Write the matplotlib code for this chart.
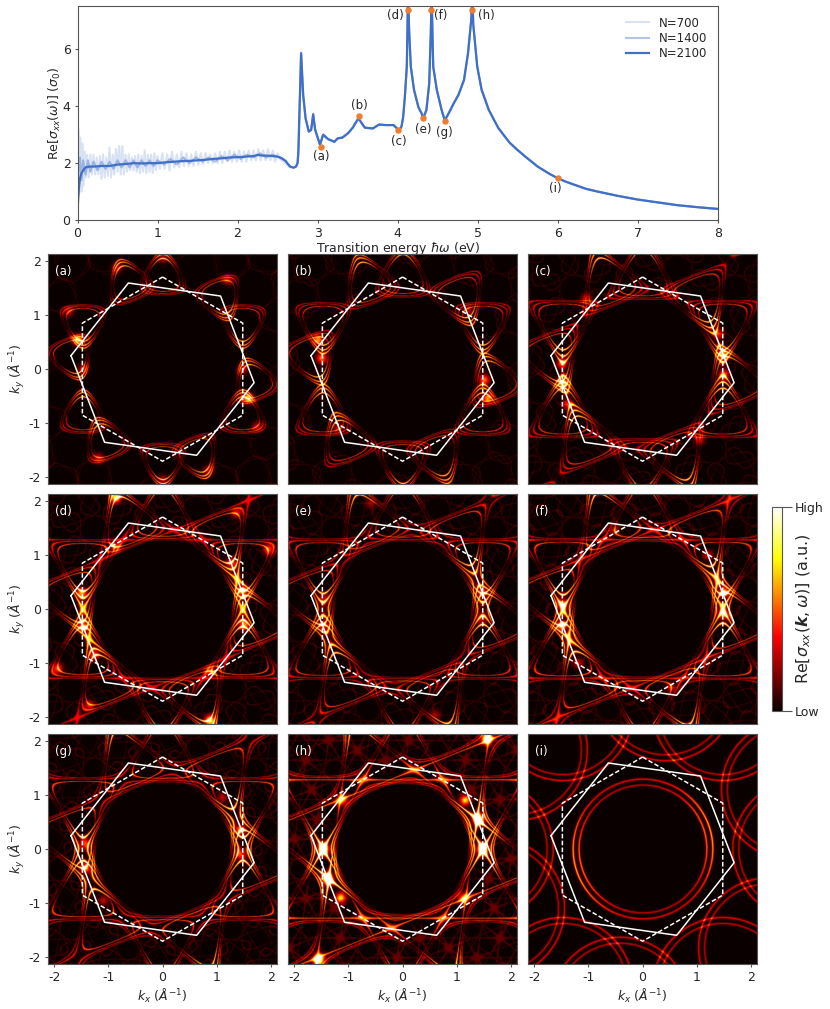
import numpy as np
import matplotlib
matplotlib.use('Agg')
import matplotlib.pyplot as plt

# The top curves are hand read values. The 2D maps cannot be read cell by cell:
# they are an approximation built from a two layer band model, using the energies,
# band offsets, ring radii and hot spots.

plt.rcParams['axes.unicode_minus'] = False
plt.rcParams['font.size'] = 9
plt.rcParams['text.color'] = '#262626'
plt.rcParams['axes.labelcolor'] = '#262626'
plt.rcParams['xtick.labelcolor'] = '#262626'
plt.rcParams['ytick.labelcolor'] = '#262626'
plt.rcParams['axes.edgecolor'] = '#555555'

BLUE = '#3f6fc6'
ORANGE = '#ed7d31'

# N=2100 curve
w_2100 = [0, .01, .02, .03, .05, .08, .1, .15, .2, .3, .4, .5, .6, .7, .8, .9, 1.0, 1.1, 1.2, 1.3, 1.4, 1.5, 1.6, 1.7,
          1.8, 1.9, 2.0, 2.1, 2.2, 2.25, 2.3, 2.4, 2.5, 2.55, 2.6, 2.63, 2.66, 2.7, 2.73, 2.75, 2.76, 2.78, 2.794,
          2.82, 2.85, 2.89, 2.92, 2.945, 2.97, 3.03, 3.07, 3.13, 3.21, 3.25, 3.31, 3.38, 3.44, 3.51, 3.59, 3.69, 3.77,
          3.85, 3.95, 4.0, 4.02, 4.05, 4.07, 4.09, 4.115, 4.13, 4.145, 4.165, 4.205, 4.26, 4.3, 4.32, 4.36, 4.395,
          4.415, 4.425, 4.445, 4.49, 4.55, 4.59, 4.66, 4.7, 4.76, 4.83, 4.88, 4.92, 4.935, 4.945, 4.995, 5.05, 5.14,
          5.26, 5.4, 5.5, 5.6, 5.75, 5.9, 6.0, 6.1, 6.25, 6.35, 6.5, 6.75, 7.0, 7.25, 7.5, 7.75, 8.0]
s_2100 = [.3, .8, 1.2, 1.45, 1.65, 1.78, 1.85, 1.88, 1.88, 1.9, 1.9, 1.95, 1.97, 2.0, 1.99, 2.0, 2.0, 2.03, 2.05, 2.07,
          2.08, 2.1, 2.12, 2.15, 2.17, 2.2, 2.21, 2.23, 2.25, 2.29, 2.27, 2.26, 2.23, 2.18, 2.08, 1.97, 1.88, 1.84,
          1.88, 2.0, 2.4, 4.4, 5.87, 4.4, 3.58, 3.11, 3.17, 3.72, 3.17, 2.65, 3.0, 2.85, 2.75, 2.87, 2.9, 3.05, 3.25,
          3.58, 3.25, 3.22, 3.36, 3.34, 3.34, 3.2, 3.15, 3.3, 3.64, 4.3, 5.4, 7.9, 6.6, 5.4, 4.58, 3.97, 3.75, 3.58,
          3.87, 4.81, 6.58, 7.9, 5.4, 4.58, 3.87, 3.5, 3.87, 4.1, 4.4, 4.93, 5.87, 7.04, 7.9, 6.9, 5.4, 4.58, 3.87,
          3.23, 2.72, 2.46, 2.22, 1.88, 1.62, 1.47, 1.35, 1.2, 1.1, 1.0, .85, .72, .62, .52, .45, .39]

# N=700 curve below 2.7 eV (jagged), above that it sits on N=2100
w_700 = [0, .01, .02, .035, .05, .06, .075, .09, .105, .12, .14, .16, .18, .2, .22, .24, .26, .28, .3, .32, .34, .36,
         .38, .4, .42, .44, .46, .48, .5, .52, .54, .56, .58, .6, .62, .64, .66, .68, .7, .72, .74, .76, .78, .8,
         .82, .84, .86, .88, .9, .92, .94, .96, .98, 1.0, 1.03, 1.06, 1.09, 1.12, 1.15, 1.18, 1.21, 1.24, 1.27, 1.3,
         1.33, 1.36, 1.39, 1.42, 1.45, 1.48, 1.51, 1.54, 1.57, 1.6, 1.63, 1.66, 1.69, 1.72, 1.75, 1.78, 1.81, 1.84,
         1.87, 1.9, 1.93, 1.96, 1.99, 2.02, 2.05, 2.08, 2.11, 2.14, 2.17, 2.2, 2.23, 2.26, 2.29, 2.32, 2.35, 2.38,
         2.41, 2.44, 2.47, 2.5, 2.55, 2.6, 2.65]
s_700 = [.3, 3.2, .9, 2.9, 1.0, 2.7, 1.2, 2.4, 1.5, 2.3, 1.5, 2.3, 1.6, 2.3, 1.6, 2.2, 1.6, 2.25, 1.45, 2.3, 1.5, 2.2,
         1.55, 2.55, 1.5, 2.3, 1.6, 2.5, 1.7, 2.6, 1.6, 2.6, 1.6, 2.3, 1.7, 2.3, 1.75, 2.2, 1.75, 2.25, 1.7, 2.3,
         1.65, 2.25, 1.7, 2.45, 1.65, 2.3, 1.7, 2.3, 1.65, 2.35, 1.75, 2.25, 1.8, 2.35, 1.8, 2.3, 1.75, 2.4, 1.85,
         2.3, 1.85, 2.4, 1.9, 2.35, 1.9, 2.3, 1.9, 2.4, 1.95, 2.35, 1.95, 2.35, 2.0, 2.3, 2.0, 2.35, 2.0, 2.4, 2.0,
         2.4, 2.05, 2.45, 2.05, 2.4, 2.05, 2.45, 2.05, 2.4, 2.05, 2.45, 2.1, 2.45, 2.1, 2.5, 2.1, 2.45, 2.1, 2.5,
         2.1, 2.45, 2.05, 2.35, 2.1, 2.0, 1.85]

# N=1400 curve below 2.7 eV
w_1400 = [0, .01, .03, .05, .07, .1, .13, .16, .2, .25, .3, .35, .4, .45, .5, .55, .6, .65, .7, .75, .8, .85, .9, .95,
          1.0, 1.08, 1.16, 1.24, 1.32, 1.4, 1.48, 1.56, 1.64, 1.72, 1.8, 1.88, 1.96, 2.04, 2.12, 2.2, 2.28, 2.36,
          2.44, 2.52, 2.6, 2.65]
s_1400 = [.3, 1.6, 2.2, 1.4, 2.1, 1.6, 2.1, 1.7, 2.05, 1.75, 2.05, 1.8, 2.05, 1.8, 2.1, 1.85, 2.1, 1.85, 2.1, 1.85,
          2.1, 1.9, 2.1, 1.9, 2.1, 1.95, 2.15, 1.95, 2.2, 2.0, 2.2, 2.05, 2.2, 2.05, 2.25, 2.1, 2.3, 2.15, 2.3, 2.2,
          2.35, 2.2, 2.3, 2.2, 2.08, 1.88]

# marked transition energies
mark_names = ['(a)', '(b)', '(c)', '(d)', '(e)', '(f)', '(g)', '(h)', '(i)']
mark_w = [3.04, 3.52, 4.01, 4.13, 4.32, 4.42, 4.59, 4.93, 6.0]
mark_s = [2.58, 3.65, 3.17, 7.4, 3.58, 7.4, 3.49, 7.4, 1.47]
mark_dx = [0, 0, 0, -.16, 0, .12, 0, .18, -.03]
mark_dy = [-.34, .38, -.4, -.22, -.38, -.22, -.4, -.22, -.37]

# band model for the maps
hop = 2.465
offsets = [0, -.5, -.81]
band_amp = [1.0, .7, .55]
twist = 21.8
map_amp = [.5, .5, .52, .55, .5, .55, .55, .62]
map_gamma = [.06, .06, .06, .065, .06, .065, .06, .07]
replica_amp = .2

# rings of panel (i)
ring_radii = [1.18, 1.29]
ring_amp = [.3, .36]

# hot spots per panel: x, y, height (the opposite point is added too)
hot_a = [(-1.57, .54, .7), (-1.74, 1.07, .25), (1.19, 1.65, .3), (-.85, 1.87, .25), (0, 2.05, .2), (1.47, 0, .3)]
hot_b = [(-1.5, .2, .55), (-1.57, .54, .6), (1.2, 1.1, .25)]
hot_c = [(1.48, .26, .6), (1.5, -.1, .4), (1.05, -1.3, .25), (1.4, .65, .35)]
hot_d = [(1.47, .33, .6), (1.5, -.3, .6), (1.27, .85, .45), (-.87, 1.15, .45), (-.87, 2.06, .8), (1.36, 1.78, .35),
         (1.95, 1.1, .45)]
hot_e = [(1.47, .3, .4), (1.45, -.2, .25), (-.6, 1.95, .2)]
hot_f = [(1.5, .31, .65), (1.5, -.1, .45), (-.52, 1.46, .25), (1.2, 1.0, .3)]
hot_g = [(1.43, .35, .55), (1.44, -.1, .45), (1.1, .95, .25)]
hot_h = [(1.47, 0, .95), (1.4, .55, .95), (1.15, .9, .7), (1.55, 2.05, 1.0), (1.1, -.9, .4)]
map_hot = [hot_a, hot_b, hot_c, hot_d, hot_e, hot_f, hot_g, hot_h]

# Brillouin zones
dash_x = [0, 1.48, 1.48, 0, -1.48, -1.48, 0]
dash_y = [1.7, .85, -.85, -1.7, -.85, .85, 1.7]
solid_x = [-1.69, -.63, 1.07, 1.69, .63, -1.07, -1.69]
solid_y = [.25, 1.59, 1.35, -.25, -1.59, -1.35, .25]

LIM = 2.12
ticks = [-2, -1, 0, 1, 2]


def layer_bands(kx, ky, angle):
    a = np.deg2rad(angle)
    qx = np.cos(a) * kx + np.sin(a) * ky
    qy = -np.sin(a) * kx + np.cos(a) * ky
    d = 1.42
    f = 0
    dfx = 0
    for t in [0, 120, 240]:
        dx = d * np.cos(np.deg2rad(t))
        dy = d * np.sin(np.deg2rad(t))
        ph = np.exp(1j * (qx * dx + qy * dy))
        f = f + ph
        dfx = dfx + 1j * dx * ph
    mag = np.abs(f) + 1e-6
    vel = (np.imag(np.conj(f) * dfx) / mag) ** 2
    return 2 * hop * mag, vel


def peak(x, g):
    return (g ** 2 / (x ** 2 + g ** 2)) ** 2


def step(x, lo, hi):
    t = np.clip((x - lo) / (hi - lo), 0, 1)
    return t * t * (3 - 2 * t)


def make_map(i, kx, ky):
    om = mark_w[i]
    g = map_gamma[i]
    rad = np.hypot(kx, ky)
    z = np.zeros_like(kx)
    for angle in [0, twist]:
        e, vel = layer_bands(kx, ky, angle)
        w = .35 + vel / 1.5
        for off, amp in zip(offsets, band_amp):
            z += amp * w * peak(om - e - off, g)
    z *= step(rad, 1.0, 1.15)
    # weak folded copies between the two layers
    rep = np.zeros_like(kx)
    for n in range(6):
        t1 = np.deg2rad(60 * n)
        t2 = t1 + np.deg2rad(twist)
        qx = 2.95 * (np.cos(t1) - np.cos(t2))
        qy = 2.95 * (np.sin(t1) - np.sin(t2))
        for angle, s in [(0, 1), (twist, -1)]:
            e, vel = layer_bands(kx + s * qx, ky + s * qy, angle)
            rep += peak(om - e, g)
    z += replica_amp * np.minimum(rep, 1.2) * step(rad, 1.25, 1.55)
    z = map_amp[i] * z
    z = z / (1 + .7 * z)
    for hx, hy, hh in map_hot[i]:
        for sgn in [1, -1]:
            z += hh * np.exp(-((kx - sgn * hx) ** 2 + (ky - sgn * hy) ** 2) / (2 * .065 ** 2))
    return z


def make_rings(kx, ky):
    z = np.zeros_like(kx)
    centres = [(0., 0.)]
    for n in range(6):
        for extra in [0, twist]:
            t = np.deg2rad(60 * n + extra)
            centres.append((2.95 * np.cos(t), 2.95 * np.sin(t)))
    for cx, cy in centres:
        d = np.hypot(kx - cx, ky - cy)
        if cx == 0 and cy == 0:
            shade = 1.0 + 1.0 * (np.cos(np.arctan2(ky, kx) - .25)) ** 4
        else:
            shade = 1.0
        for r, amp in zip(ring_radii, ring_amp):
            z += amp * shade * peak(d - r, .02)
    return z


fig = plt.figure(figsize=(8.3, 10.09), dpi=100)
W, H = 830., 1009.

ax = fig.add_axes([77.5 / W, 1 - 220 / H, 640.2 / W, 214 / H])
full_700_w = w_700 + [v for v in w_2100 if v > 2.66]
full_700_s = s_700 + [s for v, s in zip(w_2100, s_2100) if v > 2.66]
full_1400_w = w_1400 + [v for v in w_2100 if v > 2.66]
full_1400_s = s_1400 + [s for v, s in zip(w_2100, s_2100) if v > 2.66]
ax.plot(full_700_w, full_700_s, color=BLUE, alpha=.2, lw=1.5, label='N=700')
ax.plot(full_1400_w, full_1400_s, color=BLUE, alpha=.4, lw=1.5, label='N=1400')
ax.plot(w_2100, s_2100, color=BLUE, lw=1.6, label='N=2100')
ax.plot(mark_w, mark_s, 'o', color=ORANGE, ms=3.6, zorder=5, clip_on=False)
for name, x, y, dx, dy in zip(mark_names, mark_w, mark_s, mark_dx, mark_dy):
    ax.text(x + dx, y + dy, name, ha='center', va='center', fontsize=8.5)
ax.set_xlim(0, 8)
ax.set_ylim(0, 7.53)
ax.set_yticks([0, 2, 4, 6])
ax.tick_params(length=2.5, pad=2.5, color='#555555')
ax.set_xlabel(r'Transition energy $\hbar\omega$ (eV)', labelpad=0)
ax.set_ylabel(r'Re[$\sigma_{xx}(\omega)$] ($\sigma_0$)', labelpad=0)
ax.legend(loc='upper right', frameon=False, fontsize=8.5, borderaxespad=.5, labelspacing=.2)

gx = np.linspace(-LIM, LIM, 520)
kx, ky = np.meshgrid(gx, gx)
lefts = [47.7, 287.7, 527.7]
tops = [254.3, 494.3, 734.3]
size = 229.7
for i in range(9):
    r, c = divmod(i, 3)
    a = fig.add_axes([lefts[c] / W, 1 - (tops[r] + size) / H, size / W, size / H])
    z = make_map(i, kx, ky) if i < 8 else make_rings(kx, ky)
    im = a.imshow(z, origin='lower', extent=[-LIM, LIM, -LIM, LIM], cmap='hot',
                  vmin=0, vmax=1, interpolation='bilinear')
    a.plot(dash_x, dash_y, color='white', lw=1.1, ls=(0, (3, 1.5)))
    a.plot(solid_x, solid_y, color='white', lw=1.1)
    a.set_xlim(-LIM, LIM)
    a.set_ylim(-LIM, LIM)
    a.text(.03, .955, mark_names[i], color='white', transform=a.transAxes, ha='left', va='top', fontsize=8.5)
    a.tick_params(length=2.5, pad=2.5, color='#555555')
    if c == 0:
        a.set_yticks(ticks)
        a.set_yticklabels([str(t) for t in ticks])
        a.set_ylabel(r'$k_y$ ($\AA^{-1}$)', labelpad=1)
    else:
        a.set_yticks([])
    if r == 2:
        a.set_xticks(ticks)
        a.set_xticklabels([str(t) for t in ticks])
        a.set_xlabel(r'$k_x$ ($\AA^{-1}$)', labelpad=2)
    else:
        a.set_xticks([])

cax = fig.add_axes([771.7 / W, 1 - 710.7 / H, 10.6 / W, 204 / H])
cb = fig.colorbar(im, cax=cax)
cb.set_ticks([0, 1])
cb.set_ticklabels(['Low', 'High'], fontsize=9)
cb.ax.tick_params(length=7, pad=2, color='#555555')
cb.set_label(r'Re[$\sigma_{xx}(\boldsymbol{k},\omega)$] (a.u.)', fontsize=11.5, labelpad=-21)

fig.savefig('out.png', dpi=100)
